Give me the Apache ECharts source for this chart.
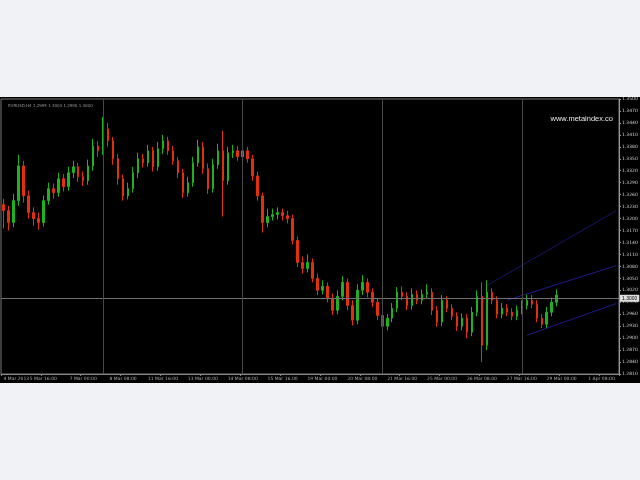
<!DOCTYPE html>
<html><head><meta charset="utf-8">
<script src="https://cdn.jsdelivr.net/npm/echarts@6/dist/echarts.min.js"></script>
<style>
html,body{margin:0;padding:0;background:#f0f2f5;width:640px;height:480px;overflow:hidden}
#c{position:absolute;left:0;top:97px;width:640px;height:286px;background:#000}
</style></head><body><div id="c"></div>
<script>
const symbolText = "EURUSD,H4 1.2995 1.3004 1.2990 1.3000";
const watermark = "www.metaindex.co";
const opens = [13235,13220,13190,13245,13332,13257,13215,13200,13190,13245,13275,13265,13300,13280,13315,13330,13305,13295,13332,13382,13370,13425,13395,13350,13300,13257,13275,13315,13350,13340,13370,13330,13375,13395,13370,13345,13315,13265,13290,13340,13380,13325,13275,13335,13370,13295,13365,13370,13355,13370,13350,13307,13257,13190,13205,13210,13215,13207,13200,13145,13090,13075,13090,13050,13020,13030,13000,12970,13005,13040,12982,12945,13020,13040,13015,12990,12957,12930,12950,12975,13015,13005,12982,13010,12995,13010,13015,12970,12940,12995,12975,12955,12930,12950,12915,12965,13005,12882,13015,12995,12960,12975,12965,12955,12970,12982,12995,12985,12950,12935,12965,12990];
const closes = [13220,13190,13245,13332,13257,13215,13200,13190,13245,13275,13265,13300,13280,13315,13330,13305,13295,13332,13382,13370,13425,13395,13350,13300,13257,13275,13315,13350,13340,13370,13330,13375,13395,13370,13345,13315,13265,13290,13340,13380,13325,13275,13335,13370,13295,13365,13370,13355,13370,13350,13307,13257,13190,13205,13210,13215,13207,13200,13145,13090,13075,13090,13050,13020,13030,13000,12970,13005,13040,12982,12945,13020,13040,13015,12990,12957,12930,12950,12975,13015,13005,12982,13010,12995,13010,13015,12970,12940,12995,12975,12955,12930,12950,12915,12965,13005,12882,13015,12995,12960,12975,12965,12955,12970,12982,12995,12985,12950,12935,12965,12990,13008];
const lows = [13175,13170,13178,13232,13240,13200,13182,13172,13180,13235,13250,13255,13268,13270,13302,13292,13282,13285,13320,13355,13360,13380,13335,13285,13245,13248,13265,13302,13328,13330,13318,13320,13362,13360,13335,13302,13252,13255,13280,13330,13312,13262,13265,13325,13205,13285,13352,13345,13345,13340,13295,13245,13165,13178,13195,13198,13195,13188,13135,13078,13062,13065,13040,13008,13010,12990,12958,12960,12995,12970,12932,12935,13008,13002,12978,12945,12918,12920,12940,12965,12995,12970,12972,12985,12985,12998,12958,12928,12930,12965,12945,12918,12920,12900,12905,12955,12840,12870,12985,12950,12950,12955,12945,12945,12960,12972,12975,12940,12925,12925,12955,12980];
const highs = [13250,13232,13262,13360,13345,13270,13228,13215,13258,13290,13288,13315,13312,13330,13345,13340,13318,13348,13400,13395,13455,13440,13405,13362,13310,13290,13330,13365,13362,13385,13380,13392,13410,13405,13382,13355,13325,13305,13355,13398,13392,13338,13350,13388,13420,13380,13385,13382,13385,13380,13360,13318,13265,13225,13225,13228,13225,13220,13210,13155,13105,13110,13100,13062,13045,13040,13012,13020,13055,13050,12995,13035,13058,13050,13025,13000,12968,12960,12988,13028,13030,13015,13025,13020,13022,13035,13025,12980,13008,13005,12985,12965,12962,12960,12978,13020,13040,13045,13025,13005,12988,12985,12975,12982,12995,13010,13008,12995,12960,12978,13002,13022];
const emptySlots = 12;
const tickLabels = ["4 Mar 2013","5 Mar 16:00","7 Mar 00:00","8 Mar 08:00","11 Mar 16:00","13 Mar 00:00","14 Mar 08:00","15 Mar 16:00","19 Mar 00:00","20 Mar 08:00","21 Mar 16:00","25 Mar 00:00","26 Mar 08:00","27 Mar 16:00","29 Mar 00:00","1 Apr 08:00"];
const separators = [20,48,76,104];
const currentPrice = 13000;
const channelUpper = [[97,13032],[123,13220]];
const channelMid = [[101,12995],[123,13082]];
const channelLow = [[105,12907],[123,12987]];

const n = opens.length + emptySlots;
const cats = [];
for (let i = 0; i < n; i++) cats.push(String(i));
const ohlc = opens.map((o, i) => [o, closes[i], lows[i], highs[i]]);
const fmt = v => (v / 10000).toFixed(4);

const chart = echarts.init(document.getElementById('c'), null, {renderer: 'canvas'});
chart.setOption({
  animation: false,
  backgroundColor: '#000',
  title: {text: symbolText, left: 3, top: 2, textStyle: {color: '#999', fontSize: 4, fontWeight: 'normal', fontFamily: 'DejaVu Sans'}},
  graphic: [{type: 'text', right: 27, top: 18, style: {text: watermark, fill: '#e8e8e8', fontSize: 7.5, fontFamily: 'Liberation Sans'}}],
  grid: {left: 1, right: 21, top: 2, bottom: 9, containLabel: false, outerBoundsMode: 'none', show: true, borderColor: '#777', borderWidth: 1, backgroundColor: '#000'},
  xAxis: {
    type: 'category', data: cats, boundaryGap: true,
    axisLine: {lineStyle: {color: '#888'}},
    axisTick: {show: true, interval: 7, length: 2, lineStyle: {color: '#888'}},
    axisLabel: {interval: 7, color: '#aaa', fontSize: 4.5, margin: 2, fontFamily: 'DejaVu Sans', hideOverlap: false, alignMinLabel: 'left',
      formatter: (v, i) => tickLabels[Math.round(i / 8)] || ''},
    splitLine: {show: false}
  },
  yAxis: {
    type: 'value', position: 'right', min: 12810, max: 13500, interval: 30, scale: true,
    axisLine: {show: true, lineStyle: {color: '#999'}},
    axisTick: {show: true, length: 2, lineStyle: {color: '#999'}},
    axisLabel: {color: '#ccc', fontSize: 4.5, margin: 3, formatter: fmt, fontFamily: 'DejaVu Sans'},
    splitLine: {show: false}
  },
  series: [
    {type: 'candlestick', data: ohlc, barWidth: 2,
      itemStyle: {color: '#1fb21f', color0: '#e0300c', borderColor: '#1fb21f', borderColor0: '#e0300c', borderWidth: 1},
      markLine: {silent: true, symbol: 'none', animation: false,
        data: [
          {yAxis: currentPrice, lineStyle: {color: '#707070', type: 'solid', width: 1},
            label: {show: true, position: 'end', formatter: () => fmt(currentPrice), backgroundColor: '#e0e0e0', color: '#000', fontSize: 5, padding: [1, 2], distance: 1}},
          ...separators.map(s => ({xAxis: s, lineStyle: {color: '#484848', type: 'solid', width: 1}, label: {show: false}}))
        ]}
    },
    {type: 'line', data: channelUpper, symbol: 'none', lineStyle: {color: '#14146a', width: 1}, silent: true},
    {type: 'line', data: channelMid, symbol: 'none', lineStyle: {color: '#1c1c8c', width: 1}, silent: true},
    {type: 'line', data: channelLow, symbol: 'none', lineStyle: {color: '#1c1c8c', width: 1}, silent: true}
  ]
});
</script></body></html>
